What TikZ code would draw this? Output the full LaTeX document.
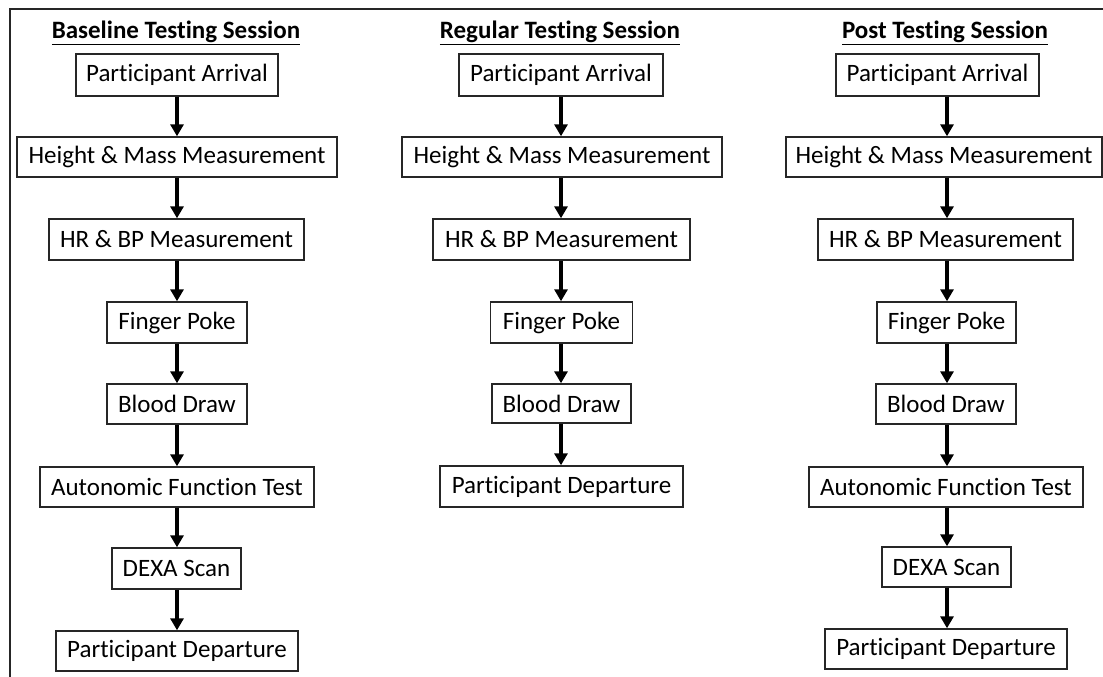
\documentclass[tikz,border=0pt]{standalone}
\usepackage{fontspec}
\setmainfont[Ligatures={NoCommon}]{Carlito}
\usetikzlibrary{arrows.meta}

\newcommand{\stagefont}{\fontsize{25}{30}\selectfont}
\newcommand{\headfont}{\fontsize{25}{30}\selectfont\bfseries}

\tikzset{
  stage/.style={draw=black!85, line width=1.4pt, inner sep=0pt,
                minimum height=41pt, font=\stagefont},
  flow/.style={line width=3.4pt, -{Triangle[width=13pt,length=12pt]}},
  heading/.style={font=\headfont, inner sep=0pt, anchor=base},
  frameline/.style={line width=2pt, draw=black!85}
}

\begin{document}
\begin{tikzpicture}[x=1pt, y=-1pt]
  \useasboundingbox (0,0) rectangle (1103,677);

  % outer frame (top and left edges)
  \draw[frameline] (10,677) -- (10,9) -- (1103,9);

  % column axes for the arrows
  \coordinate (x1) at (177,0);
  \coordinate (x2) at (561,0);
  \coordinate (x3) at (947,0);

  % ---- Baseline session ----
  \node[heading] (t1) at (176,39) {\underline{Baseline Testing Session}};
  \node[stage, minimum width=202pt, minimum height=42pt] (a1) at (177,75)    {Participant Arrival};
  \node[stage, minimum width=320pt, minimum height=40pt] (b1) at (177,157)   {Height \& Mass Measurement};
  \node[stage, minimum width=255pt] (c1) at (176.5,239.5) {HR \& BP Measurement};
  \node[stage, minimum width=140pt] (d1) at (177,322.5)   {Finger Poke};
  \node[stage, minimum width=140pt, minimum height=40pt] (e1) at (177,404) {Blood Draw};
  \node[stage, minimum width=274pt, minimum height=40pt] (f1) at (177,487) {Autonomic Function Test};
  \node[stage, minimum width=129pt] (g1) at (176.5,568.5) {DEXA Scan};
  \node[stage, minimum width=242pt, minimum height=40pt] (h1) at (177,651) {Participant Departure};

  \foreach \u/\v in {a1/b1, b1/c1, c1/d1, d1/e1, e1/f1, f1/g1, g1/h1}
    \draw[flow] (\u.south -| x1) -- (\v.north -| x1);

  % ---- Regular session ----
  \node[heading] (t2) at (560,39) {\underline{Regular Testing Session}};
  \node[stage, minimum width=204pt, minimum height=42pt] (a2) at (561,75)    {Participant Arrival};
  \node[stage, minimum width=320pt, minimum height=40pt] (b2) at (562,157)   {Height \& Mass Measurement};
  \node[stage, minimum width=257pt] (c2) at (561.5,239.5) {HR \& BP Measurement};
  \node[stage, minimum width=142pt] (d2) at (561.5,322.5) {Finger Poke};
  \node[stage, minimum width=139pt, minimum height=39pt] (e2) at (561.5,403.5) {Blood Draw};
  \node[stage, minimum width=243pt] (h2) at (561.5,486.5) {Participant Departure};

  \foreach \u/\v in {a2/b2, b2/c2, c2/d2, d2/e2, e2/h2}
    \draw[flow] (\u.south -| x2) -- (\v.north -| x2);

  % ---- Post session ----
  \node[heading] (t3) at (945,39) {\underline{Post Testing Session}};
  \node[stage, minimum width=203pt, minimum height=42pt] (a3) at (937.5,75)  {Participant Arrival};
  \node[stage, minimum width=316pt, minimum height=40pt] (b3) at (944,157)   {Height \& Mass Measurement};
  \node[stage, minimum width=255pt] (c3) at (945.5,239.5) {HR \& BP Measurement};
  \node[stage, minimum width=139pt] (d3) at (946.5,322.5) {Finger Poke};
  \node[stage, minimum width=140pt, minimum height=40pt] (e3) at (946,404) {Blood Draw};
  \node[stage, minimum width=274pt, minimum height=40pt] (f3) at (946,487) {Autonomic Function Test};
  \node[stage, minimum width=129pt, minimum height=40pt] (g3) at (946.5,567) {DEXA Scan};
  \node[stage, minimum width=242pt, minimum height=40pt] (h3) at (946,649) {Participant Departure};

  \foreach \u/\v in {a3/b3, b3/c3, c3/d3, d3/e3, e3/f3, f3/g3, g3/h3}
    \draw[flow] (\u.south -| x3) -- (\v.north -| x3);
\end{tikzpicture}
\end{document}
